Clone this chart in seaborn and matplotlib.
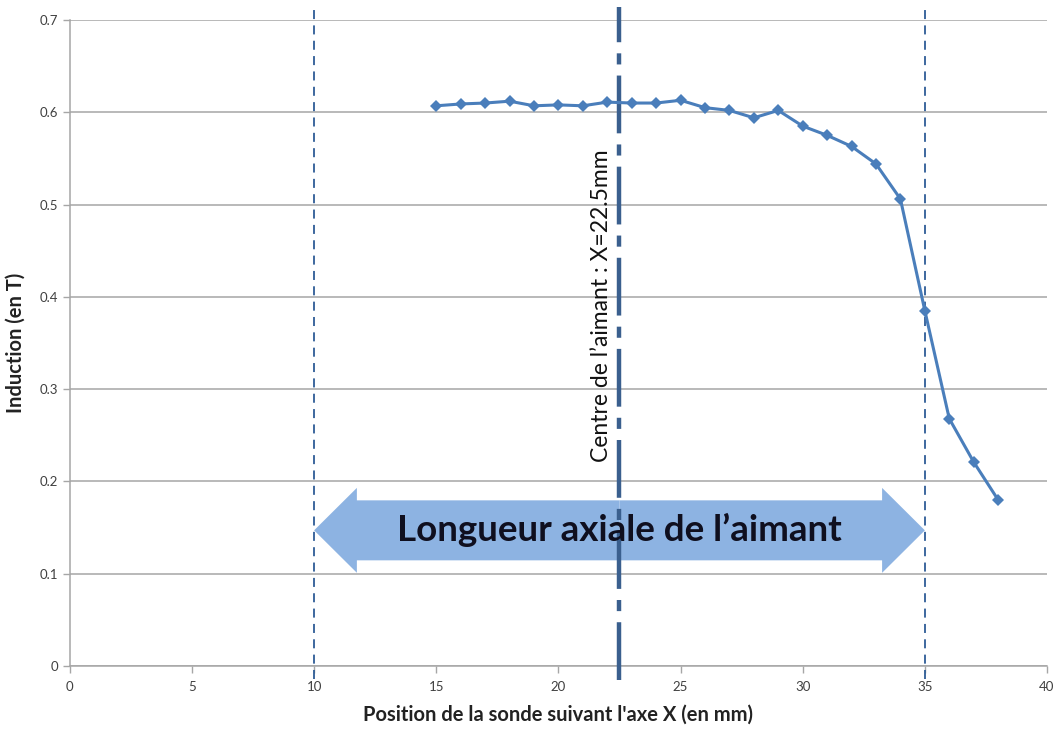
import numpy as np
import pandas as pd
import matplotlib
matplotlib.use("Agg")
import matplotlib.pyplot as plt
import seaborn as sns
from matplotlib.patches import FancyArrow

# ---- data ----
positions_mm = [15, 16, 17, 18, 19, 20, 21, 22, 23, 24, 25, 26, 27, 28, 29,
                30, 31, 32, 33, 34, 35, 36, 37, 38]
induction_T = [0.607, 0.609, 0.610, 0.612, 0.607, 0.608, 0.607, 0.611, 0.610,
               0.610, 0.613, 0.605, 0.602, 0.594, 0.602, 0.585, 0.575, 0.563,
               0.544, 0.506, 0.385, 0.268, 0.221, 0.180]
magnet_start = 10
magnet_end = 35
magnet_centre = 22.5
x_ticks = [0, 5, 10, 15, 20, 25, 30, 35, 40]
y_ticks = [0, 0.1, 0.2, 0.3, 0.4, 0.5, 0.6, 0.7]
y_tick_labels = ["0", "0.1", "0.2", "0.3", "0.4", "0.5", "0.6", "0.7"]
x_label = "Position de la sonde suivant l'axe X (en mm)"
y_label = "Induction (en T)"
centre_label = "Centre de l\u2019aimant : X=22.5mm"
arrow_label = "Longueur axiale de l\u2019aimant"

df = pd.DataFrame({"x": positions_mm, "y": induction_T})

sns.set_theme(style="white")
plt.rcParams["font.family"] = ["Lato", "DejaVu Sans"]

fig = plt.figure(figsize=(10.58, 7.29), dpi=100)
ax = fig.add_axes([0.066, 0.0864, 0.9236, 0.8862])

ax.set_xlim(0, 40)
ax.set_ylim(0, 0.7)
ax.set_yticks(y_ticks)
ax.set_yticklabels(y_tick_labels)
ax.set_xticks(x_ticks)
ax.yaxis.grid(True, color="#a6a6a6", lw=1.1)
ax.xaxis.grid(False)
ax.set_axisbelow(True)
for s in ["top", "right"]:
    ax.spines[s].set_visible(False)
for s in ["left", "bottom"]:
    ax.spines[s].set_color("#a6a6a6")
    ax.spines[s].set_linewidth(1.1)
ax.tick_params(axis="both", which="both", length=5, width=1, color="#a6a6a6",
               labelsize=9.5, labelcolor="#404040", direction="out",
               bottom=True, left=True)
ax.tick_params(axis="x", pad=6)

# magnet limits
for xv in [magnet_start, magnet_end]:
    ax.axvline(xv, ymin=-0.02, ymax=1.015, clip_on=False, color="#2E5C96",
               lw=1.3, ls=(0, (5, 3.5)), zorder=1)

# double arrow
arrow_y = 0.147
for dx in [magnet_end - magnet_centre, magnet_start - magnet_centre]:
    ax.add_patch(FancyArrow(magnet_centre, arrow_y, dx, 0, width=0.065,
                            head_width=0.092, head_length=1.75,
                            length_includes_head=True, color="#8DB3E2",
                            lw=0, zorder=3))

# centre line
ax.axvline(magnet_centre, ymin=-0.022, ymax=1.02, clip_on=False, color="#3A5F8E",
           lw=3.2, ls=(0, (13, 2.5, 2.5, 2.5)), zorder=3.5)

ax.text(magnet_centre, arrow_y, arrow_label, ha="center", va="center",
        fontsize=26.5, fontweight="bold", color="#0f0f1f", zorder=5)

# data line
sns.lineplot(data=df, x="x", y="y", ax=ax, color="#4A7EBB", lw=2.2,
             marker="D", markersize=6.5, markeredgewidth=0, zorder=4)

# centre label
ax.text(21.75, 0.39, centre_label, rotation=90, ha="center", va="center",
        fontsize=16.5, color="#111111", zorder=6)

ax.set_xlabel(x_label, fontsize=14.5, fontweight="bold", color="#222222", labelpad=8)
ax.set_ylabel(y_label, fontsize=14.5, fontweight="bold", color="#222222", labelpad=10)

fig.savefig("out.png", dpi=100)
